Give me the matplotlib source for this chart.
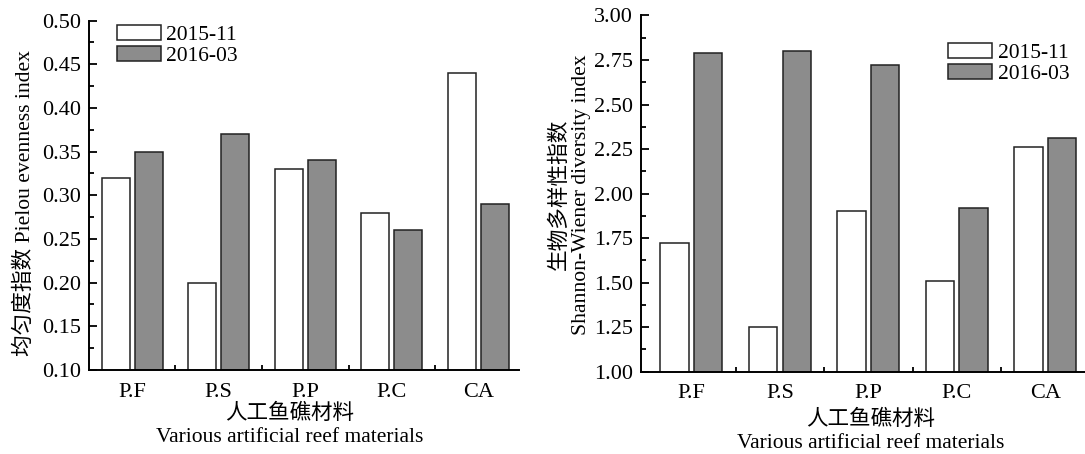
import numpy as np
import matplotlib.pyplot as plt
from matplotlib.ticker import MultipleLocator, FixedLocator

plt.rcParams['font.family'] = ['Liberation Serif', 'Noto Sans CJK SC']
plt.rcParams['font.size'] = 15.5

# Данные
materials = ['P.F', 'P.S', 'P.P', 'P.C', 'CA']
dates = ['2015-11', '2016-03']
pielou_1511 = [0.32, 0.20, 0.33, 0.28, 0.44]
pielou_1603 = [0.35, 0.37, 0.34, 0.26, 0.29]
shannon_1511 = [1.72, 1.25, 1.90, 1.51, 2.26]
shannon_1603 = [2.79, 2.80, 2.72, 1.92, 2.31]

fig = plt.figure(figsize=(10.85, 4.54), dpi=100)
ax1 = fig.add_axes([0.082, 0.185, 0.3963, 0.7698])
ax2 = fig.add_axes([0.5908, 0.1813, 0.4092, 0.7846])

x = np.arange(len(materials))
w = 0.32
off = 0.19


def draw(ax, v1, v2, ylim, major, minor, xlim):
    ax.bar(x - off, v1, w, color='white', edgecolor='#222222',
           linewidth=1.1, label=dates[0], zorder=2)
    ax.bar(x + off, v2, w, color='#8c8c8c', edgecolor='#222222',
           linewidth=1.1, label=dates[1], zorder=2)
    ax.set_ylim(*ylim)
    ax.set_xlim(*xlim)
    ax.spines['top'].set_visible(False)
    ax.spines['right'].set_visible(False)
    for s in ['left', 'bottom']:
        ax.spines[s].set_linewidth(1.4)
        ax.spines[s].set_zorder(3)
    ax.yaxis.set_major_locator(MultipleLocator(major))
    ax.yaxis.set_minor_locator(MultipleLocator(minor))
    ax.yaxis.set_major_formatter('{x:.2f}')
    ax.set_xticks(x)
    ax.set_xticklabels(materials)
    ax.xaxis.set_minor_locator(FixedLocator(x[:-1] + 0.5))
    ax.tick_params(axis='y', which='major', direction='in', length=6, width=1.3, pad=6)
    ax.tick_params(axis='y', which='minor', direction='in', length=3.5, width=1.3)
    ax.tick_params(axis='x', which='major', length=0, pad=9)
    ax.tick_params(axis='x', which='minor', direction='in', length=3.5, width=1.3)
    ax.tick_params(labelsize=16)


draw(ax1, pielou_1511, pielou_1603, (0.10, 0.50), 0.05, 0.025, (-0.5, 4.47))
draw(ax2, shannon_1511, shannon_1603, (1.00, 3.00), 0.25, 0.125, (-0.57, 4.45))

# Подписи осей
ax1.set_ylabel('均匀度指数 Pielou evenness index', fontsize=15.6)
ax1.yaxis.set_label_coords(-0.125, 0.478)
ax1.set_xlabel('人工鱼礁材料\nVarious artificial reef materials', fontsize=15.5,
               linespacing=1.3)
ax1.xaxis.set_label_coords(0.467, -0.097)

ax2.set_ylabel('生物多样性指数\nShannon-Wiener diversity index', fontsize=15.6,
               linespacing=1.15)
ax2.yaxis.set_label_coords(-0.113, 0.497)
ax2.set_xlabel('人工鱼礁材料\nVarious artificial reef materials', fontsize=15.5,
               linespacing=1.3)
ax2.xaxis.set_label_coords(0.518, -0.106)

leg_kw = dict(frameon=False, handlelength=2.05, handleheight=0.7,
              handletextpad=0.25, labelspacing=0.05, borderpad=0,
              borderaxespad=0, fontsize=15.5)
ax1.legend(loc='upper left', bbox_to_anchor=(0.065, 0.988), **leg_kw)
ax2.legend(loc='upper left', bbox_to_anchor=(0.692, 0.923), **leg_kw)

fig.savefig('out.png', dpi=100)
